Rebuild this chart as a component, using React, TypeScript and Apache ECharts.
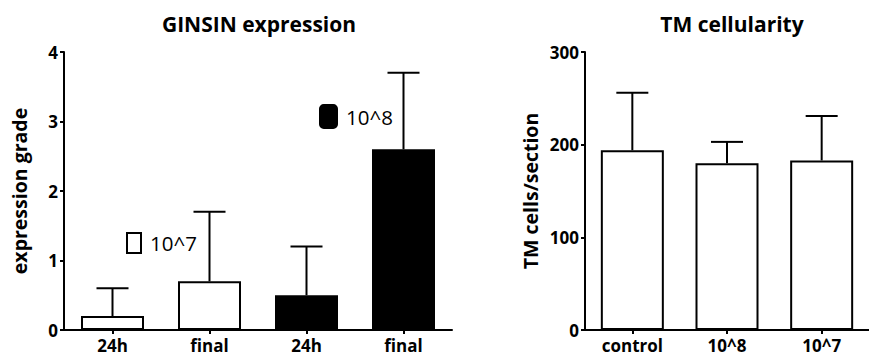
import React, { useEffect, useRef } from "react";
import * as echarts from "echarts";

const ginsinCategories = ["24h", "final", "24h", "final"];
const ginsin1e7 = [0.2, 0.7, "-", "-"];
const ginsin1e8 = ["-", "-", 0.5, 2.6];
const ginsinMean = [0.2, 0.7, 0.5, 2.6];
const ginsinSD = [0.4, 1.0, 0.7, 1.1];
const ginsinTicks = [0, 1, 2, 3, 4];

const tmCategories = ["control", "10^8", "10^7"];
const tmMean = [194, 180, 183];
const tmSD = [62, 23, 48];
const tmTicks = [0, 100, 200, 300];

const FONT = "Open Sans";

export default function App() {
  const ref = useRef<HTMLDivElement>(null);
  useEffect(() => {
    if (!ref.current) return;
    const chart = echarts.init(ref.current, null, { renderer: "svg" });

    const errorRender = (params: any, api: any) => {
      const idx = api.value(0);
      const mean = api.value(1);
      const sd = api.value(2);
      const p0 = api.coord([idx, mean]);
      const p1 = api.coord([idx, mean + sd]);
      const half = 16;
      const style = { stroke: "#000", lineWidth: 2 };
      return {
        type: "group",
        children: [
          { type: "line", shape: { x1: p0[0], y1: p0[1], x2: p1[0], y2: p1[1] }, style },
          { type: "line", shape: { x1: p1[0] - half, y1: p1[1], x2: p1[0] + half, y2: p1[1] }, style },
        ],
      };
    };

    const axisLine = { show: true, lineStyle: { color: "#000", width: 2 } };
    const axisTick = { show: true, length: 4, lineStyle: { color: "#000", width: 2 } };
    const labelStyle = { color: "#000", fontFamily: FONT, fontWeight: "bold", fontSize: 17 };
    const nameStyle = { color: "#000", fontFamily: FONT, fontWeight: "bold", fontSize: 19.5 };
    const barStyle = (c: string) => ({ color: c, borderColor: "#000", borderWidth: 2 });

    const option: any = {
      animation: false,
      backgroundColor: "#fff",
      grid: [
        { left: 64, top: 52, width: 388, height: 278 },
        { left: 585, top: 52, width: 291, height: 278 },
      ],
      xAxis: [
        {
          type: "category",
          gridIndex: 0,
          data: ginsinCategories,
          axisLine,
          axisTick: { ...axisTick, alignWithLabel: true },
          axisLabel: { ...labelStyle, margin: 7 },
          splitLine: { show: false },
        },
        {
          type: "category",
          gridIndex: 1,
          data: tmCategories,
          axisLine,
          axisTick: { ...axisTick, alignWithLabel: true },
          axisLabel: { ...labelStyle, margin: 7 },
          splitLine: { show: false },
        },
      ],
      yAxis: [
        {
          type: "value",
          gridIndex: 0,
          min: ginsinTicks[0],
          max: ginsinTicks[ginsinTicks.length - 1],
          interval: 1,
          axisLine,
          axisTick,
          axisLabel: { ...labelStyle, margin: 6 },
          splitLine: { show: false },
          name: "expression grade",
          nameLocation: "middle",
          nameGap: 35,
          nameTextStyle: nameStyle,
        },
        {
          type: "value",
          gridIndex: 1,
          min: tmTicks[0],
          max: tmTicks[tmTicks.length - 1],
          interval: 100,
          axisLine,
          axisTick,
          axisLabel: { ...labelStyle, margin: 6 },
          splitLine: { show: false },
          name: "TM cells/section",
          nameLocation: "middle",
          nameGap: 45,
          nameTextStyle: nameStyle,
        },
      ],
      legend: [
        {
          left: 121,
          top: 227,
          itemWidth: 14,
          itemHeight: 20,
          textStyle: { color: "#000", fontFamily: FONT, fontSize: 20.5, padding: [0, 0, 0, 4] },
          data: [
            { name: "10^7", icon: "rect", itemStyle: { color: "#fff", borderColor: "#000", borderWidth: 2 } },
          ],
          selectedMode: false,
        },
        {
          left: 314,
          top: 99,
          itemWidth: 19,
          itemHeight: 25,
          textStyle: { color: "#000", fontFamily: FONT, fontSize: 20.5, padding: [0, 0, 0, 3] },
          data: [
            { name: "10^8", icon: "roundRect", itemStyle: { color: "#000", borderWidth: 0 } },
          ],
          selectedMode: false,
        },
      ],
      graphic: [
        {
          type: "text",
          x: 259,
          y: 24,
          style: {
            text: "GINSIN expression",
            fill: "#000",
            font: `bold 21px "${FONT}"`,
            textAlign: "center",
            textVerticalAlign: "middle",
          },
        },
        {
          type: "text",
          x: 732,
          y: 24,
          style: {
            text: "TM cellularity",
            fill: "#000",
            font: `bold 21px "${FONT}"`,
            textAlign: "center",
            textVerticalAlign: "middle",
          },
        },
      ],
      series: [
        {
          name: "10^7",
          type: "bar",
          xAxisIndex: 0,
          yAxisIndex: 0,
          stack: "g",
          barWidth: 63,
          data: ginsin1e7,
          itemStyle: barStyle("#fff"),
        },
        {
          name: "10^8",
          type: "bar",
          xAxisIndex: 0,
          yAxisIndex: 0,
          stack: "g",
          barWidth: 63,
          data: ginsin1e8,
          itemStyle: barStyle("#000"),
        },
        {
          name: "ginsinErr",
          type: "custom",
          xAxisIndex: 0,
          yAxisIndex: 0,
          z: 5,
          renderItem: errorRender,
          encode: { x: 0, y: 1 },
          data: ginsinMean.map((m, i) => [i, m, ginsinSD[i]]),
        },
        {
          name: "cells",
          type: "bar",
          xAxisIndex: 1,
          yAxisIndex: 1,
          barWidth: 63,
          data: tmMean,
          itemStyle: barStyle("#fff"),
        },
        {
          name: "tmErr",
          type: "custom",
          xAxisIndex: 1,
          yAxisIndex: 1,
          z: 5,
          renderItem: errorRender,
          encode: { x: 0, y: 1 },
          data: tmMean.map((m, i) => [i, m, tmSD[i]]),
        },
      ],
    };
    chart.setOption(option);
    return () => chart.dispose();
  }, []);
  return <div ref={ref} style={{ width: 869, height: 358, position: "absolute", left: 0, top: 0 }} />;
}
